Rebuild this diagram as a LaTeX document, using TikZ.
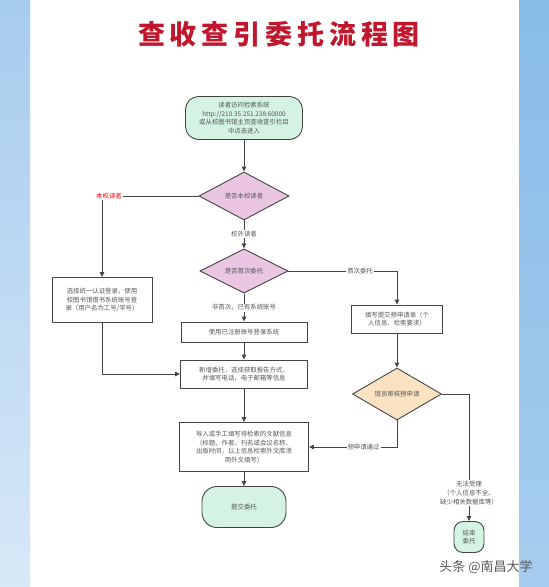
\documentclass[tikz,border=0pt]{standalone}
\usepackage{fontspec}
\setmainfont{Noto Sans CJK SC}
\newfontfamily\titlefont[LetterSpace=18]{Noto Sans CJK SC}
\usetikzlibrary{arrows.meta,positioning,shapes.geometric}
\definecolor{ttl}{RGB}{192,22,46}
\definecolor{ln}{RGB}{68,68,68}
\definecolor{txt}{RGB}{85,85,85}
\definecolor{mint}{RGB}{212,243,226}
\definecolor{pinkd}{RGB}{234,198,226}
\definecolor{peach}{RGB}{251,226,194}
\definecolor{bgl}{RGB}{166,204,238}
\definecolor{bgr}{RGB}{136,188,232}
\tikzset{
  >={Triangle[length=5pt,width=4.4pt]},
  every node/.style={font=\fontsize{6.4}{8.8}\selectfont,text=txt,inner sep=0pt},
  box/.style={draw=ln,line width=0.9pt,fill=white,align=center},
  term/.style={draw=ln,line width=0.9pt,fill=mint,rounded corners=13pt,align=center},
  dec/.style={diamond,draw=ln,line width=0.9pt,fill=pinkd,inner sep=0pt},
  conn/.style={draw=ln,line width=1pt},
  lbl/.style={fill=white,inner sep=1pt,align=center},
}

\begin{document}
\begin{tikzpicture}[x=1pt,y=-1pt]
  \useasboundingbox (0,0) rectangle (549,587);
  % background strips
  \fill[top color=bgl,bottom color=bgl!45] (0,0) rectangle (30,587);
  \fill[top color=bgr,bottom color=bgr!75] (519,0) rectangle (549,587);

  \node[font=\titlefont\bfseries\fontsize{27}{30}\selectfont,text=ttl] (title) at (279,34) {查收查引委托流程图};

  % main column
  \node[term,minimum width=117pt,minimum height=43pt] (start) at (244,118)
    {读者访问检索系统\\http://210.35.251.238:60000\\或从校图书馆主页查收查引栏目\\中点击进入};
  \node[dec,minimum width=90pt,minimum height=48pt] (local) at (244,196) {是否本校读者};
  \node[dec,minimum width=88pt,minimum height=42pt] (first) at (244,271) {是否首次委托};
  \node[box,minimum width=126pt,minimum height=20pt] (reg) at (244,332) {使用已注册账号登录系统};
  \node[box,minimum width=127pt,minimum height=28pt] (order) at (244,374)
    {新增委托，选择获取报告方式，\\并填写电话、电子邮箱等信息};
  \node[box,minimum width=129pt,minimum height=49pt] (info) at (244,447)
    {导入或手工填写待检索的文献信息\\（标题、作者、刊名或会议名称、\\出版时间，以上信息检索外文库须\\用外文填写）};
  \node[term,minimum width=84pt,minimum height=41pt,rounded corners=15pt] (submit) at (244,507) {提交委托};

  % left and right columns
  \node[box,minimum width=100pt,minimum height=45pt] (login) at (102,300)
    {选择统一认证登录，使用\\校图书馆借书系统账号登\\录（用户名为工号/学号）};
  \node[box,minimum width=91pt,minimum height=28pt] (apply) at (397,319)
    {填写提交预申请单（个\\人信息、检索要求）};
  \node[dec,fill=peach,minimum width=89pt,minimum height=52pt] (check) at (397,394) {馆员审核预申请};
  \node[term,minimum width=30pt,minimum height=31pt,rounded corners=9pt] (stop) at (469,537) {结束\\委托};

  % connectors
  \draw[conn,->] (start) -- (local);
  \draw[conn,->] (local.west) -| node[pos=0.5,lbl,text=red,xshift=7pt]{本校读者} (login.north);
  \draw[conn,->] (local) -- node[lbl]{校外读者} (first);
  \draw[conn,->] (first) -- node[lbl]{非首次，已有系统账号} (reg);
  \draw[conn,->] (first.east) -| node[pos=0.33,lbl]{首次委托} (apply.north);
  \draw[conn,->] (reg) -- (order);
  \draw[conn,->] (login.south) |- (order.west);
  \draw[conn,->] (order) -- (info);
  \draw[conn,->] (info) -- (submit);
  \draw[conn,->] (apply) -- (check);
  \draw[conn,->] (check.south) |- node[pos=0.69,lbl]{预申请通过} (info.east);
  \draw[conn,->] (check.east) -| node[pos=0.89,lbl]{无法受理\\（个人信息不全、\\缺少相关数据库等）} (stop.north);

  \node[font=\fontsize{13}{15}\selectfont,text=black!65] (mark) at (486,567) {头条 @南昌大学};
\end{tikzpicture}
\end{document}
